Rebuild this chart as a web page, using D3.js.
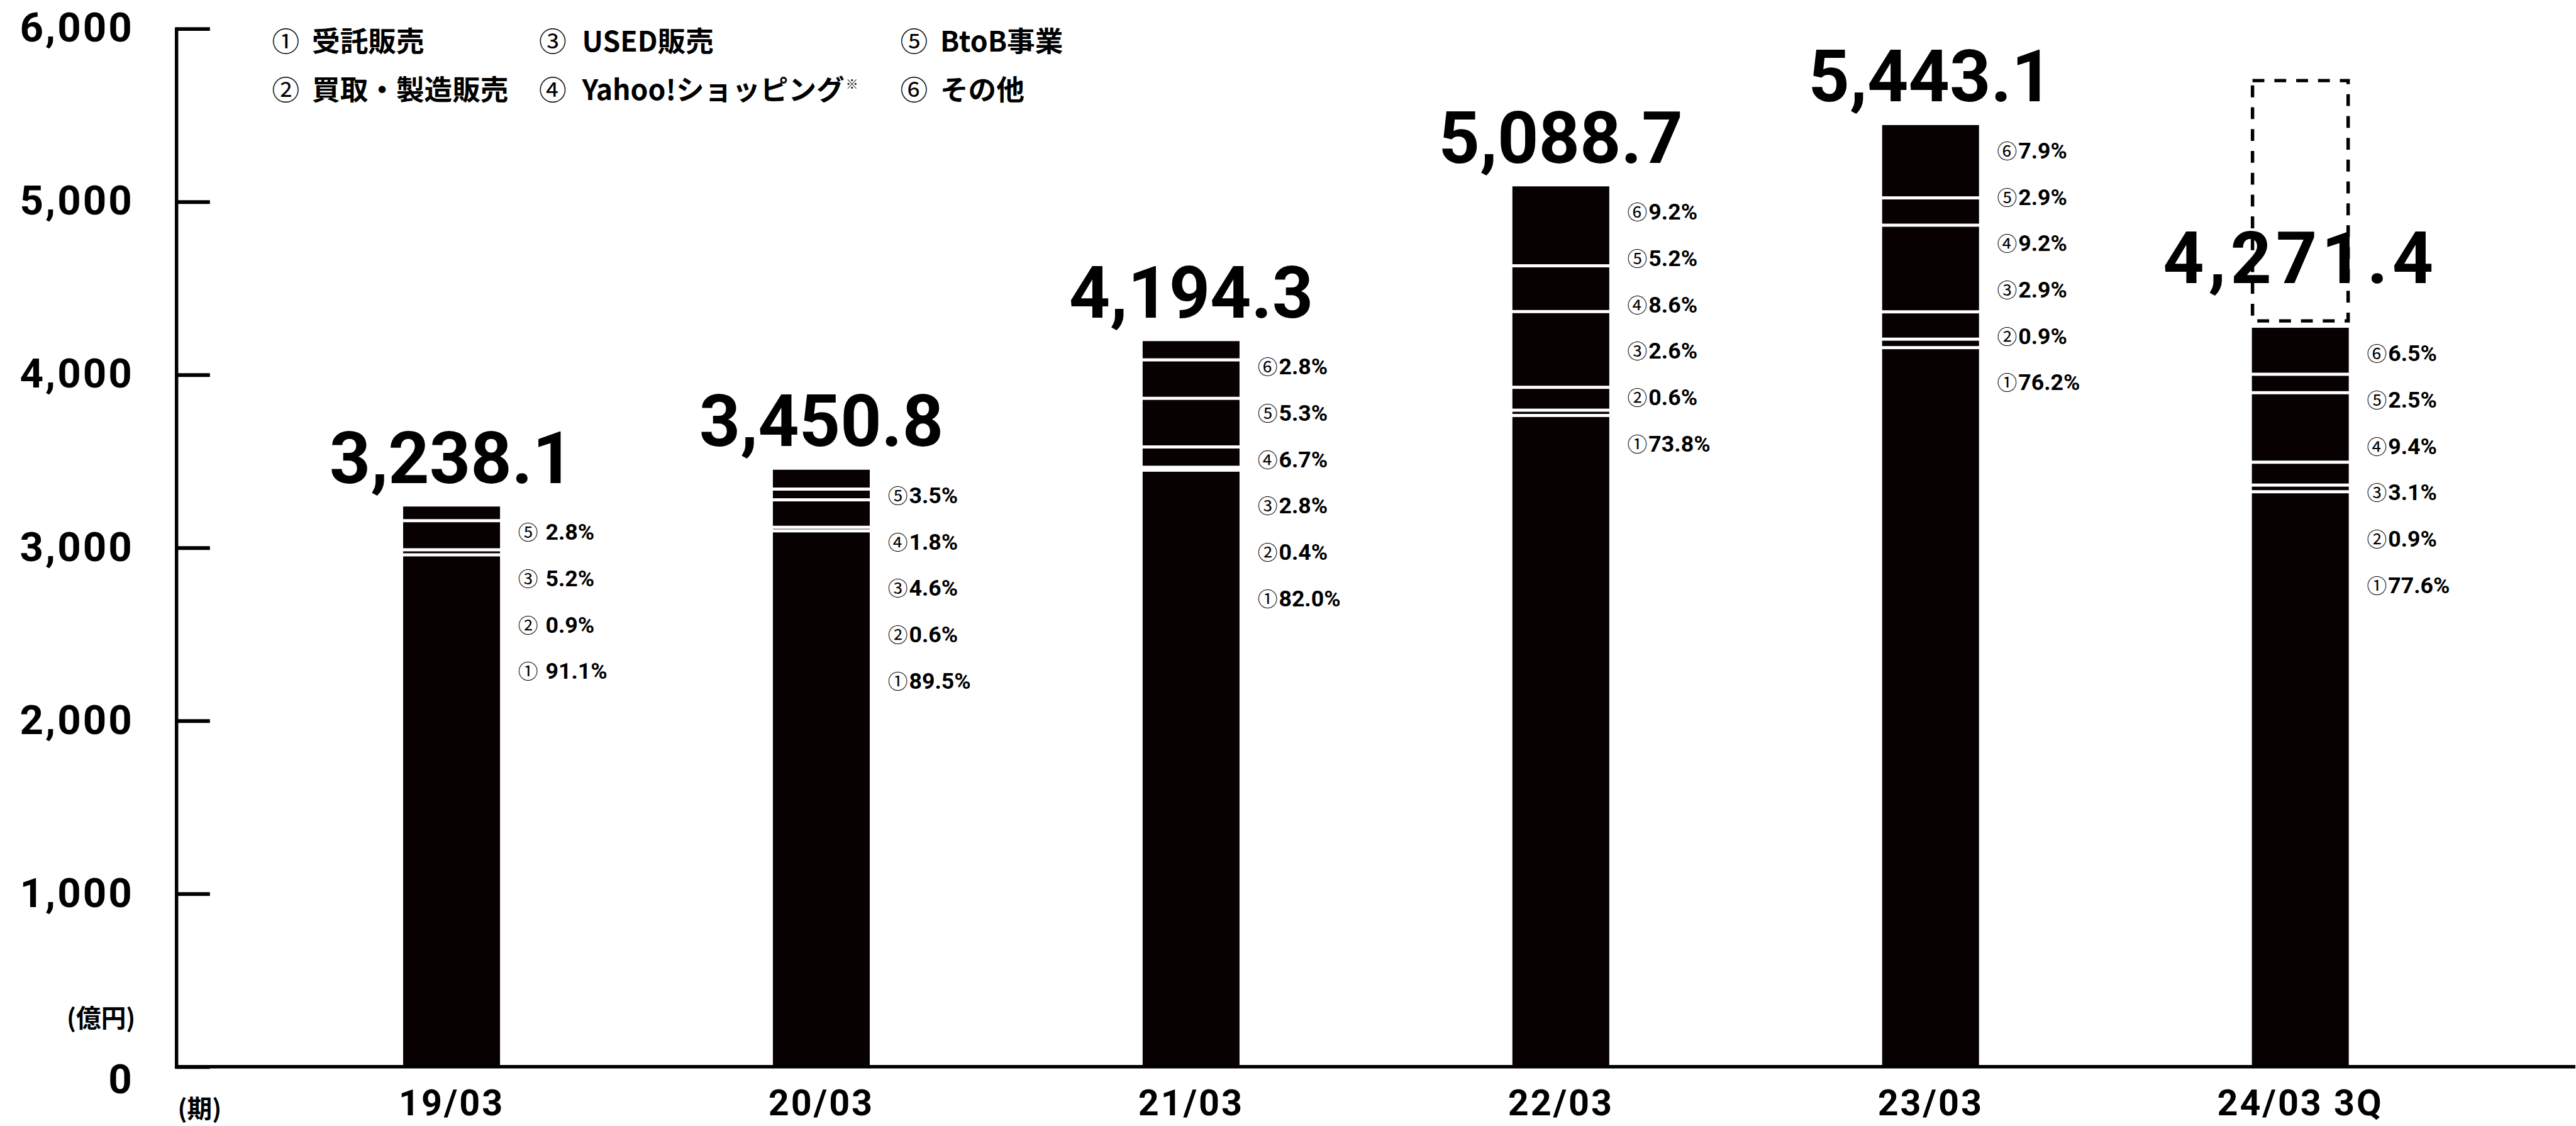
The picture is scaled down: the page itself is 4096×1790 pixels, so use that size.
<!DOCTYPE html>
<html lang="ja">
<head>
<meta charset="utf-8">
<script src="https://cdn.jsdelivr.net/npm/d3@7"></script>
<style>
  html, body { margin: 0; padding: 0; background: #fff; }
  svg { display: block; }
</style>
</head>
<body>
<svg id="chart" width="4096" height="1790"></svg>
<script>
// 期
const periods = ["19/03", "20/03", "21/03", "22/03", "23/03", "24/03 3Q"];
// 商品取扱高 (億円)
const totals = [3238.1, 3450.8, 4194.3, 5088.7, 5443.1, 4271.4];
// 通期計画 (点線枠)
const fullYearPlan = 5700;

// 事業別構成比 (%)  null = 該当なし
const shareConsignment = [91.1, 89.5, 82.0, 73.8, 76.2, 77.6]; // ① 受託販売
const sharePurchase    = [0.9, 0.6, 0.4, 0.6, 0.9, 0.9];       // ② 買取・製造販売
const shareUsed        = [5.2, 4.6, 2.8, 2.6, 2.9, 3.1];       // ③ USED販売
const shareYahoo       = [null, 1.8, 6.7, 8.6, 9.2, 9.4];      // ④ Yahoo!ショッピング
const shareBtoB        = [2.8, 3.5, 5.3, 5.2, 2.9, 2.5];       // ⑤ BtoB事業
const shareOther       = [null, null, 2.8, 9.2, 7.9, 6.5];     // ⑥ その他

const segmentMarks = ["①", "②", "③", "④", "⑤", "⑥"];
const legendNames = ["受託販売", "買取・製造販売", "USED販売", "Yahoo!ショッピング", "BtoB事業", "その他"];
const legendNotes = ["", "", "", "※", "", ""];
const yTicks = [0, 1000, 2000, 3000, 4000, 5000, 6000];
const yUnit = "(億円)";
const xUnit = "(期)";

// ---------------------------------------------------------------
const SCALE = 0.992;
const NUM_FONT = "Roboto, 'Noto Sans', sans-serif";
const JP_FONT = "'Noto Sans CJK JP', 'Noto Sans', sans-serif";
const INK = "#000";
const BAR = "#070102";

const shares = [shareConsignment, sharePurchase, shareUsed, shareYahoo, shareBtoB, shareOther];
const keys = segmentMarks.map((m, k) => "s" + k);

const rows = periods.map((p, i) => {
  const r = { period: p, total: totals[i] };
  shares.forEach((arr, k) => { r["s" + k] = arr[i] == null ? 0 : totals[i] * arr[i] / 100; });
  return r;
});

const svg = d3.select("#chart");
const g = svg.append("g").attr("transform", `scale(${SCALE})`);

const axisX = 282.5;
const y = d3.scaleLinear().domain([0, 6000]).range([1709.5, 46]);
const x = d3.scaleBand().domain(periods).range([427.5, 3983.5])
  .paddingInner(0.738).paddingOuter(0.369);

// ---- stacked bars ----
const stack = d3.stack().keys(keys)(rows);
const gap = 5;
const barG = g.append("g");
stack.forEach((layer, k) => {
  layer.forEach((d, i) => {
    if (d[1] - d[0] <= 0) return;
    const top = y(d[1]);
    const bottom = k === 0 ? y(d[0]) : y(d[0]) - gap;
    barG.append("rect")
      .attr("x", x(periods[i]))
      .attr("y", top)
      .attr("width", x.bandwidth())
      .attr("height", Math.max(0, bottom - top))
      .attr("fill", BAR);
  });
});

// ---- full-year plan outline on the in-progress period ----
const lastIdx = periods.length - 1;
g.append("rect")
  .attr("x", x(periods[lastIdx]) + 1)
  .attr("y", y(fullYearPlan))
  .attr("width", x.bandwidth() - 2)
  .attr("height", y(totals[lastIdx]) - 11 - y(fullYearPlan))
  .attr("fill", "none")
  .attr("stroke", INK)
  .attr("stroke-width", 5.5)
  .attr("stroke-dasharray", "19 16");

// ---- axes ----
const yAxis = d3.axisLeft(y).tickValues(yTicks)
  .tickSizeInner(-54).tickSizeOuter(0).tickPadding(68)
  .tickFormat(d3.format(","));
const yAxisG = g.append("g").attr("transform", `translate(${axisX},0)`).call(yAxis);
yAxisG.select(".domain").attr("stroke", INK).attr("stroke-width", 5.5).attr("stroke-linecap", "square");
yAxisG.selectAll(".tick line").attr("stroke", INK).attr("stroke-width", 6);
yAxisG.selectAll(".tick text")
  .attr("fill", INK)
  .style("font-family", NUM_FONT).style("font-weight", 700)
  .style("font-size", "66px").style("letter-spacing", "3px")
  .attr("dy", d => d === 0 ? "0.63em" : "0.31em");

// baseline runs across the whole width
g.append("line")
  .attr("x1", axisX).attr("x2", 4128)
  .attr("y1", y(0)).attr("y2", y(0))
  .attr("stroke", INK).attr("stroke-width", 5.5);

const xAxis = d3.axisBottom(x).tickSize(0).tickPadding(37);
const xAxisG = g.append("g").attr("transform", `translate(0,${y(0)})`).call(xAxis);
xAxisG.select(".domain").remove();
xAxisG.selectAll(".tick text")
  .attr("fill", INK)
  .style("font-family", NUM_FONT).style("font-weight", 700)
  .style("font-size", "58px").style("letter-spacing", "3px");

// unit labels
g.append("text").text(yUnit)
  .attr("x", 162).attr("y", 1629).attr("text-anchor", "middle")
  .attr("dominant-baseline", "central")
  .style("font-family", JP_FONT).style("font-weight", 700).style("font-size", "40px");
g.append("text").text(xUnit)
  .attr("x", 320).attr("y", 1774).attr("text-anchor", "middle")
  .attr("dominant-baseline", "central")
  .style("font-family", JP_FONT).style("font-weight", 700).style("font-size", "40px");

// ---- total labels ----
const fmtTotal = d3.format(",.1f");
rows.forEach((r, i) => {
  const inProgress = i === lastIdx;
  g.append("text")
    .text(fmtTotal(r.total))
    .attr("x", x(r.period) + x.bandwidth() / 2)
    .attr("y", y(r.total) - (inProgress ? 72 : 38))
    .attr("text-anchor", "middle")
    .attr("fill", INK)
    .style("font-family", NUM_FONT).style("font-weight", 700)
    .style("font-size", "115px")
    .style("letter-spacing", inProgress ? "7px" : "0px");
});

// ---- share labels beside each bar (⑥ → ①, top to bottom) ----
const fmtShare = d3.format(".1f");
rows.forEach((r, i) => {
  const items = [];
  for (let k = shares.length - 1; k >= 0; k--) {
    if (shares[k][i] != null) items.push({ mark: segmentMarks[k], v: shares[k][i] });
  }
  const lx = x(r.period) + x.bandwidth() + 29;
  const y0 = y(r.total) + 41;
  items.forEach((it, j) => {
    const t = g.append("text")
      .attr("x", lx)
      .attr("y", y0 + j * 74.3 + 12.5)
      .attr("fill", INK);
    t.append("tspan").text(it.mark)
      .style("font-family", JP_FONT).style("font-weight", 400).style("font-size", "32px");
    t.append("tspan").text(fmtShare(it.v) + "%")
      .attr("dx", i === 0 ? 12 : 2)
      .style("font-family", NUM_FONT).style("font-weight", 700).style("font-size", "36px");
  });
});

// ---- legend ----
const legendCols = [436, 864, 1443];
const legendTextOffset = [64, 69, 64];
const legendRows = [67, 144];
const legendG = g.append("g");
legendNames.forEach((name, k) => {
  const col = Math.floor(k / 2), row = k % 2;
  const cx = legendCols[col], cy = legendRows[row] + 16;
  legendG.append("text").text(segmentMarks[k])
    .attr("x", cx).attr("y", cy)
    .style("font-family", JP_FONT).style("font-weight", 400).style("font-size", "44px");
  const t = legendG.append("text")
    .attr("x", cx + legendTextOffset[col]).attr("y", cy)
    .style("font-family", JP_FONT).style("font-weight", 700).style("font-size", "45px");
  t.append("tspan").text(name);
  if (legendNotes[k]) {
    t.append("tspan").text(legendNotes[k])
      .attr("dy", -18).attr("dx", 2)
      .style("font-size", "20px").style("font-weight", 400);
  }
});
</script>
</body>
</html>
